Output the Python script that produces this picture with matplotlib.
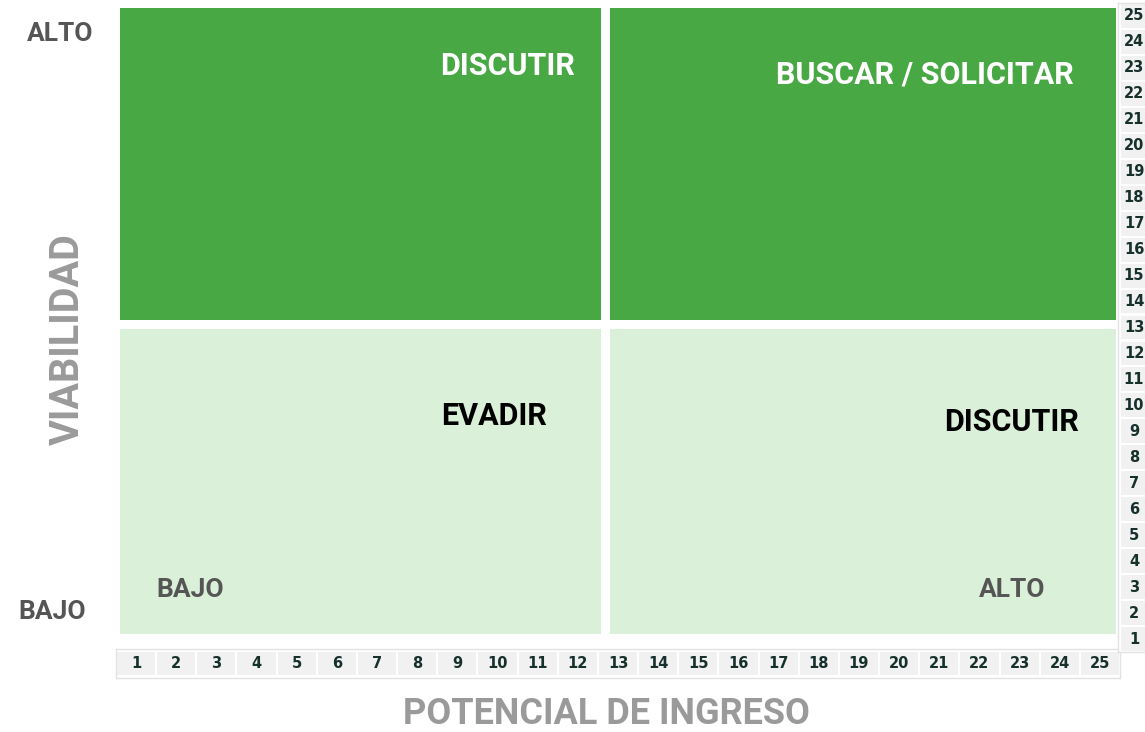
import matplotlib.pyplot as plt
from matplotlib.patches import Rectangle

W, H = 1145, 732

# quadrants: (x0, x1, y0, y1) in chart units
quad_bounds = [
    (0.6, 12.58, 13.29, 25.35),
    (12.8, 25.4, 13.29, 25.35),
    (0.6, 12.58, 1.16, 12.94),
    (12.8, 25.4, 1.16, 12.94),
]
quad_colors = ["#48a843", "#48a843", "#dbf0d8", "#dbf0d8"]
quad_labels = ["DISCUTIR", "BUSCAR / SOLICITAR", "EVADIR", "DISCUTIR"]
label_colors = ["white", "white", "black", "black"]
label_pos = [(10.24, 23.1), (20.64, 22.76), (9.91, 9.58), (22.81, 9.35)]

inner_labels = ["BAJO", "ALTO"]
inner_pos = [(2.34, 2.86), (22.81, 2.86)]

ticks = list(range(1, 26))

FONT = "Roboto"

fig = plt.figure(figsize=(W / 100, H / 100), dpi=100)

def px_axes(x0, y0, x1, y1):
    return fig.add_axes([x0 / W, 1 - y1 / H, (x1 - x0) / W, (y1 - y0) / H])

ax = px_axes(116, 4, 1120, 651)
ax.set_xlim(0.5, 25.5)
ax.set_ylim(0.5, 25.5)
ax.axis("off")

for (x0, x1, y0, y1), c in zip(quad_bounds, quad_colors):
    ax.add_patch(Rectangle((x0, y0), x1 - x0, y1 - y0, color=c, lw=0))

for lab, c, (x, y) in zip(quad_labels, label_colors, label_pos):
    ax.text(x, y, lab, color=c, fontsize=22, fontweight="bold", family=FONT,
            ha="center", va="center")

for lab, (x, y) in zip(inner_labels, inner_pos):
    ax.text(x, y, lab, color="#555555", fontsize=19, fontweight="bold", family=FONT,
            ha="center", va="center")

# bottom tick row
axb = px_axes(116, 649, 1120, 678)
axb.set_xlim(0.5, 25.5)
axb.set_ylim(0, 1)
axb.set_xticks([])
axb.set_yticks([])
for s in axb.spines.values():
    s.set_color("#e2e2e2")
    s.set_linewidth(1)
axb.bar(ticks, 0.8, bottom=0.1, width=0.95, color="#f1f1f1")
for t in ticks:
    axb.text(t, 0.5, str(t), ha="center", va="center", fontsize=10.5,
             fontweight="bold", color="#16302c", family="DejaVu Sans")

# right tick column
axr = px_axes(1118, 3, 1150, 652)
axr.set_ylim(0.5, 25.5)
axr.set_xlim(0, 1)
axr.set_xticks([])
axr.set_yticks([])
for s in axr.spines.values():
    s.set_color("#e2e2e2")
    s.set_linewidth(1)
axr.barh(ticks, 0.85, left=0.08, height=0.92, color="#f1f1f1")
for t in ticks:
    axr.text(0.5, t, str(t), ha="center", va="center", fontsize=10.5,
             fontweight="bold", color="#16302c", family="DejaVu Sans")

# outer labels
fig.text(60 / W, 1 - 34 / H, "ALTO", ha="center", va="center", fontsize=19,
         fontweight="bold", color="#555555", family=FONT)
fig.text(52 / W, 1 - 612 / H, "BAJO", ha="center", va="center", fontsize=19,
         fontweight="bold", color="#555555", family=FONT)
fig.text(68 / W, 1 - 339 / H, "VIABILIDAD", ha="center", va="center", fontsize=28.5,
         fontweight="bold", color="#9a9a9a", family=FONT, rotation=90)
fig.text(606 / W, 1 - 714 / H, "POTENCIAL DE INGRESO", ha="center", va="center",
         fontsize=26, fontweight="bold", color="#9a9a9a", family=FONT)

fig.savefig("out.png", dpi=100)
